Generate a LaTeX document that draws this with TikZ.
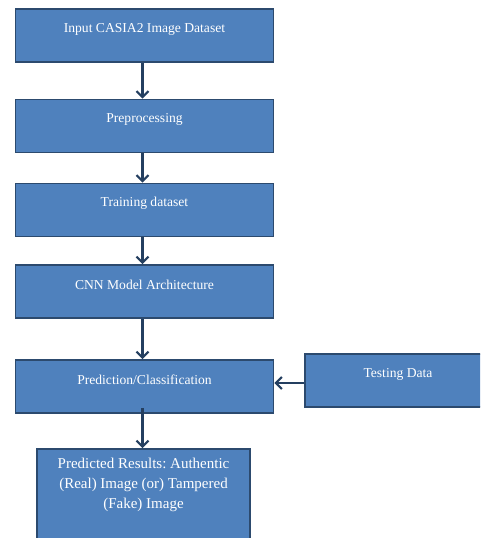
\documentclass[tikz,border=0pt]{standalone}
\usepackage{fontspec}
\setmainfont{Liberation Serif}
\usetikzlibrary{arrows.meta}
\definecolor{boxfill}{HTML}{4F81BD}
\definecolor{boxedge}{HTML}{2C4A6E}
\definecolor{arrowc}{HTML}{243F60}
\tikzset{
  box/.style={draw=boxedge, fill=boxfill, line width=1.6pt, rectangle, inner sep=0pt},
  lbl/.style={text=white, font=\fontsize{13.6}{20}\selectfont\frenchspacing, inner sep=0pt, align=center},
  conn/.style={draw=arrowc, line width=2.2pt, -{Straight Barb[length=6pt,width=12pt,line width=2.2pt]}}
}
\begin{document}
\begin{tikzpicture}[x=1pt,y=-1pt]
\useasboundingbox (0,0) rectangle (480,538);
\clip (0,0) rectangle (480,538);
\node[box, minimum width=258pt, minimum height=53pt] (b1) at (144.5,35.5) {};
\node[lbl] (t1) at (144.5,29) {Input CASIA2 Image Dataset};
\node[box, minimum width=258pt, minimum height=53pt] (b2) at (144.5,126) {};
\node[lbl] (t2) at (144.5,119) {Preprocessing};
\node[box, minimum width=258pt, minimum height=53pt] (b3) at (144.5,210) {};
\node[lbl] (t3) at (144.5,203) {Training dataset};
\node[box, minimum width=258pt, minimum height=53pt] (b4) at (144.5,291.5) {};
\node[lbl] (t4) at (144.5,285) {CNN Model Architecture};
\node[box, minimum width=258pt, minimum height=53pt] (b5) at (144.5,386.5) {};
\node[lbl] (t5) at (144.5,380) {Prediction/Classification};
\node[box, minimum width=190pt, minimum height=53pt] (b7) at (400,380.5) {};
\node[lbl] (t7) at (398,374) {Testing Data};
\node[box, minimum width=213pt, minimum height=120pt] (b6) at (143.5,509) {};
\node[lbl, font=\fontsize{15}{20}\selectfont\frenchspacing] (t6) at (143.5,485) {Predicted Results: Authentic\\(Real) Image (or) Tampered\\(Fake) Image};
\draw[conn] ([xshift=-2pt]b1.south) -- ([xshift=-2pt]b1.south |- b2.north);
\draw[conn] ([xshift=-2pt]b2.south) -- ([xshift=-2pt]b2.south |- b3.north);
\draw[conn] ([xshift=-2pt]b3.south) -- ([xshift=-2pt]b3.south |- b4.north);
\draw[conn] ([xshift=-2pt]b4.south) -- ([xshift=-2pt]b4.south |- b5.north);
\draw[conn] ([xshift=-2pt,yshift=6pt]b5.south) -- ([xshift=-2pt]b5.south |- b6.north);
\draw[conn] ([yshift=-2.5pt]b7.west) -- ([yshift=-2.5pt]b7.west -| b5.east);
\end{tikzpicture}
\end{document}
